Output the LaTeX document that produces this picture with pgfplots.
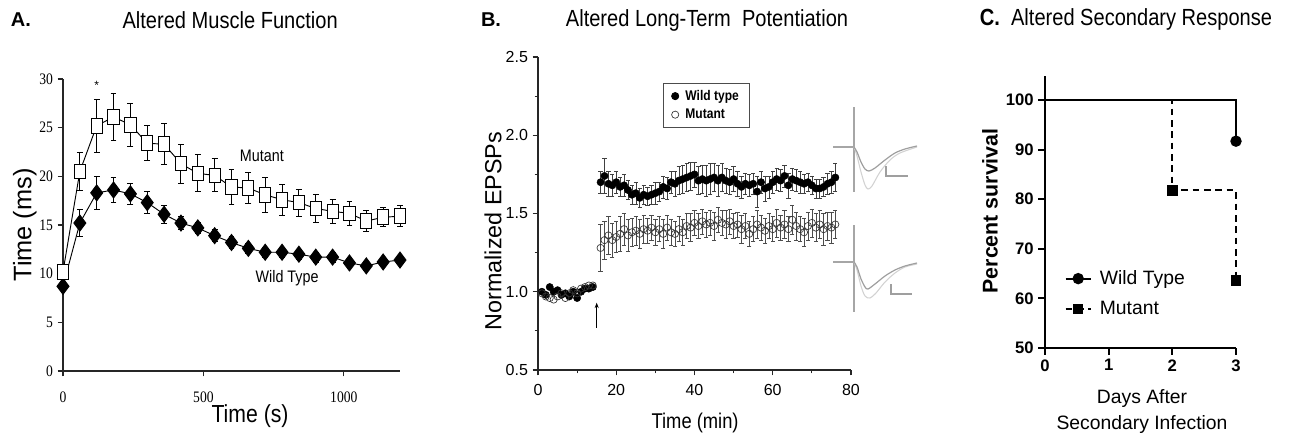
\documentclass[border=0pt]{standalone}
\usepackage{fontspec}
\setmainfont{Liberation Sans}
\newfontfamily\narrow[FakeStretch=0.86]{Liberation Sans}
\newfontfamily\serifn[FakeStretch=0.85]{Liberation Serif}
\usepackage{pgfplots}
\usepackage{pgfplotstable}
\pgfplotsset{compat=1.18, every axis title shift=0pt}
\usetikzlibrary{arrows.meta}

% panel A: twitch time course
\pgfplotstableread{
t m em w ew
0 10.2 0.6 8.7 0.3
60 20.5 2.0 15.2 1.4
120 25.2 2.7 18.3 1.7
180 26.1 2.4 18.6 1.3
240 25.3 2.2 18.2 1.1
300 23.4 1.8 17.3 1.1
360 23.3 2.1 16.1 0.9
420 21.3 2.0 15.2 0.7
480 20.3 1.9 14.7 0.6
540 20.1 1.7 13.9 0.6
600 18.9 1.8 13.2 0.6
660 18.8 1.6 12.6 0.5
720 18.1 1.8 12.2 0.5
780 17.6 1.6 12.2 0.5
840 17.3 1.4 12.0 0.5
900 16.7 1.4 11.7 0.5
960 16.4 1.2 11.7 0.5
1020 16.2 1.2 11.1 0.5
1080 15.4 1.1 10.8 0.5
1140 15.8 1.0 11.2 0.5
1200 15.9 1.1 11.4 0.5
}\tabA

% panel B: baseline before tetanus
\pgfplotstableread{
t wt mu
1 1.00 0.99
2 0.98 0.97
3 1.03 0.96
4 1.00 0.95
5 1.01 0.97
6 0.98 0.99
7 0.99 0.96
8 0.97 0.99
9 1.00 1.01
10 0.96 0.99
11 1.00 1.02
12 1.02 1.03
13 1.02 1.04
14 1.03 1.04
}\tabBbase

% panel B: after tetanus
\pgfplotstableread{
t wt ewt mu emu
16 1.70 0.07 1.28 0.15
17 1.74 0.11 1.33 0.12
18 1.69 0.08 1.36 0.12
19 1.68 0.07 1.33 0.11
20 1.70 0.07 1.35 0.10
21 1.67 0.06 1.37 0.11
22 1.68 0.07 1.40 0.10
23 1.65 0.06 1.36 0.10
24 1.62 0.06 1.38 0.09
25 1.63 0.07 1.39 0.09
26 1.60 0.06 1.37 0.09
27 1.62 0.06 1.40 0.09
28 1.61 0.06 1.39 0.08
29 1.62 0.06 1.41 0.08
30 1.63 0.07 1.38 0.08
31 1.64 0.06 1.40 0.08
32 1.67 0.07 1.37 0.09
33 1.66 0.07 1.41 0.08
34 1.70 0.07 1.38 0.08
35 1.69 0.08 1.37 0.08
36 1.71 0.09 1.40 0.08
37 1.72 0.09 1.38 0.08
38 1.73 0.09 1.42 0.08
39 1.74 0.09 1.41 0.09
40 1.75 0.08 1.44 0.08
41 1.71 0.09 1.42 0.08
42 1.72 0.09 1.45 0.08
43 1.71 0.10 1.43 0.08
44 1.72 0.10 1.44 0.08
45 1.73 0.09 1.42 0.09
46 1.71 0.10 1.46 0.08
47 1.73 0.09 1.44 0.08
48 1.71 0.08 1.43 0.09
49 1.70 0.08 1.45 0.08
50 1.72 0.08 1.42 0.08
51 1.69 0.08 1.43 0.08
52 1.67 0.07 1.40 0.09
53 1.69 0.07 1.42 0.08
54 1.68 0.07 1.37 0.08
55 1.69 0.07 1.40 0.08
56 1.64 0.10 1.43 0.09
57 1.70 0.07 1.41 0.08
58 1.66 0.08 1.39 0.08
59 1.67 0.07 1.42 0.08
60 1.70 0.07 1.40 0.08
61 1.72 0.07 1.44 0.09
62 1.71 0.07 1.41 0.08
63 1.74 0.07 1.43 0.09
64 1.68 0.08 1.40 0.08
65 1.72 0.07 1.46 0.09
66 1.71 0.07 1.42 0.09
67 1.70 0.07 1.40 0.08
68 1.69 0.06 1.38 0.09
69 1.70 0.06 1.42 0.09
70 1.68 0.06 1.44 0.09
71 1.66 0.06 1.41 0.09
72 1.66 0.06 1.43 0.09
73 1.67 0.06 1.40 0.10
74 1.69 0.07 1.42 0.09
75 1.70 0.07 1.41 0.10
76 1.73 0.09 1.43 0.09
}\tabBpost

\begin{document}
\begin{tikzpicture}
\useasboundingbox (0,0) rectangle (969.75pt,330pt);

%% ---------------- A ----------------
\begin{axis}[
 at={(47.25pt,51.75pt)}, anchor=south west,
 scale only axis, width=252.75pt, height=219pt,
 xmin=0, xmax=1200, ymin=0, ymax=30,
 axis lines=left, axis line style={-, line width=0.8pt, black!85},
 tick align=outside, major tick length=4pt,
 tick style={line width=0.8pt, black!85},
 xtick={0,500,1000}, ytick={0,5,...,30},
 tick label style={font=\serifn\fontsize{12}{14}\selectfont},
 xticklabel style={yshift=-8pt},
 /pgf/number format/assume math mode=true,
 /pgf/number format/1000 sep={},
 title={Altered Muscle Function},
 title style={at={(0.496,1.202)}, anchor=center, font=\narrow\fontsize{17.5}{20}\selectfont},
 xlabel={Time (s)},
 xlabel style={at={(0.555,-0.156)}, anchor=center, font=\narrow\fontsize{18.5}{20}\selectfont},
 ylabel={Time (ms)},
 ylabel style={at={(-0.113,0.5)}, anchor=center, font=\fontsize{19}{20}\selectfont},
 clip=false,
]
\addplot[black, line width=0.7pt, mark=diamond*, mark size=6pt,
 error bars/.cd, y dir=both, y explicit,
 error bar style={line width=0.7pt},
 error mark options={rotate=90, mark size=2.2pt, line width=0.7pt}]
 table[x=t, y=w, y error=ew] {\tabA};
\addplot[black, line width=0.7pt, mark=square*, mark size=4.2pt,
 mark options={fill=white, yscale=1.3, line width=0.7pt},
 error bars/.cd, y dir=both, y explicit,
 error bar style={line width=0.7pt},
 error mark options={rotate=90, mark size=2.2pt, line width=0.7pt}]
 table[x=t, y=m, y error=em] {\tabA};
\node[font=\fontsize{9}{10}\selectfont] at (axis cs:120,29.3) {*};
\node[font=\narrow\fontsize{12.5}{14}\selectfont] at (axis cs:708,22.1) {Mutant};
\node[font=\narrow\fontsize{12.5}{14}\selectfont] at (axis cs:798,9.5) {Wild Type};
\node[font=\bfseries\fontsize{15}{18}\selectfont] at (rel axis cs:-0.125,1.202) {A.};
\end{axis}

%% ---------------- B ----------------
\begin{axis}[
 at={(403.5pt,52.5pt)}, anchor=south west,
 scale only axis, width=234.75pt, height=234.75pt,
 xmin=0, xmax=80, ymin=0.5, ymax=2.5,
 axis lines=left, axis line style={-, line width=0.8pt, black!85},
 tick align=outside, major tick length=4pt, minor tick length=2.5pt,
 tick style={line width=0.8pt, black!85},
 xtick={0,20,...,80}, minor x tick num=1,
 ytick={0.5,1.0,...,2.5}, minor y tick num=1,
 yticklabel style={/pgf/number format/fixed, /pgf/number format/fixed zerofill, /pgf/number format/precision=1},
 xticklabel style={yshift=-3pt},
 tick label style={font=\fontsize{12}{14}\selectfont},
 /pgf/number format/assume math mode=true,
 title={Altered Long-Term\ \ Potentiation},
 title style={at={(0.540,1.118)}, anchor=center, font=\narrow\fontsize{17.5}{20}\selectfont},
 xlabel={Time (min)},
 xlabel style={at={(0.502,-0.169)}, anchor=center, font=\narrow\fontsize{16}{18}\selectfont},
 ylabel={Normalized EPSPs},
 ylabel style={at={(-0.144,0.444)}, anchor=center, font=\fontsize{17.5}{20}\selectfont},
 legend style={at={(0.40,0.917)}, anchor=north west, draw=black!70, line width=0.6pt,
   font=\narrow\bfseries\fontsize{10.5}{12}\selectfont, inner xsep=6pt, inner ysep=3pt, row sep=1pt},
 legend cell align=left,
 clip=false,
]
\addplot[only marks, mark=*, mark size=2.7pt, black,
 error bars/.cd, y dir=both, y explicit,
 error bar style={line width=0.4pt, black!75},
 error mark options={rotate=90, mark size=1.6pt, line width=0.4pt, black!75}]
 table[x=t, y=wt, y error=ewt] {\tabBpost};
\addlegendentry{\hspace*{3pt}Wild type}
\addplot[only marks, mark=o, mark size=2.7pt, black!80, mark options={fill=white, line width=0.5pt},
 error bars/.cd, y dir=both, y explicit,
 error bar style={line width=0.4pt, black!70},
 error mark options={rotate=90, mark size=1.6pt, line width=0.4pt, black!70}]
 table[x=t, y=mu, y error=emu] {\tabBpost};
\addlegendentry{\hspace*{3pt}Mutant}
\addplot[only marks, mark=*, mark size=2.7pt, black, forget plot] table[x=t, y=wt] {\tabBbase};
\addplot[only marks, mark=o, mark size=2.7pt, black!80, mark options={fill=white, line width=0.5pt}, forget plot]
 table[x=t, y=mu] {\tabBbase};
\draw[-{Stealth[length=4pt,width=3pt]}, line width=0.8pt] (axis cs:15,0.77) -- (axis cs:15,0.93);
\node[font=\bfseries\fontsize{15}{18}\selectfont] at (rel axis cs:-0.150,1.118) {B.};
\end{axis}

%% EPSP sample traces beside panel B (drawn in picture pixels)
\begin{axis}[
 at={(615pt,82.5pt)}, anchor=south west,
 scale only axis, width=82.5pt, height=180pt,
 xmin=820, xmax=930, ymin=90, ymax=330, y dir=reverse,
 hide axis, clip=false,
]
\addplot[gray!70, line width=0.8pt] coordinates {(854,107) (854,192)};
\addplot[gray!70, line width=0.8pt] coordinates {(833,147) (854,147)};
\addplot[gray!35, line width=0.8pt, smooth] coordinates {(854,147) (857,156) (861,172) (865,185) (868,189) (872,186) (880,172) (890,160) (900,153) (917,147)};
\addplot[gray!75, line width=0.9pt, smooth] coordinates {(854,147) (857,152) (861,162) (865,169) (869,171) (875,168) (885,160) (895,153) (905,149) (917,146)};
\addplot[gray!75, line width=0.8pt] coordinates {(886,166) (886,176) (908,176)};
\addplot[gray!70, line width=0.8pt] coordinates {(854,225) (854,312)};
\addplot[gray!70, line width=0.8pt] coordinates {(833,262) (854,262)};
\addplot[gray!35, line width=0.8pt, smooth] coordinates {(854,262) (857,270) (861,286) (865,296) (870,298) (876,293) (885,282) (895,273) (905,267) (917,264)};
\addplot[gray!75, line width=0.9pt, smooth] coordinates {(854,262) (857,267) (861,279) (865,287) (868,289) (875,284) (885,276) (895,270) (905,266) (917,263)};
\addplot[gray!75, line width=0.8pt] coordinates {(891,284) (891,294) (912,294)};
\end{axis}

%% ---------------- C ----------------
\begin{axis}[
 at={(783.75pt,69pt)}, anchor=south west,
 scale only axis, width=143.25pt, height=204pt,
 xmin=0, xmax=3, ymin=50, ymax=104.84,
 axis lines=left, axis line style={-, line width=1.5pt},
 tick align=outside, major tick length=5pt,
 tick style={line width=1.5pt, black},
 xtick={0,1,2,3}, ytick={50,60,...,100},
 tick label style={font=\bfseries\fontsize{12.5}{14}\selectfont},
 /pgf/number format/assume math mode=true,
 title={{\bfseries C.}\ \ Altered Secondary Response},
 title style={at={(0.424,1.206)}, anchor=center, font=\narrow\fontsize{17.5}{20}\selectfont},
 xlabel={Days After\\Secondary Infection},
 xlabel style={at={(0.508,-0.233)}, anchor=center, align=center, font=\fontsize{14.5}{20}\selectfont},
 ylabel={Percent survival},
 ylabel style={at={(-0.288,0.504)}, anchor=center, font=\bfseries\fontsize{16}{18}\selectfont},
 legend style={at={(0.08,0.2)}, anchor=west, draw=none, fill=none,
   font=\fontsize{14.5}{16}\selectfont, row sep=7pt},
 legend cell align=left,
 legend image code/.code={\draw[#1, mark indices={2}] plot coordinates {(0pt,0pt) (9.5pt,0pt) (19pt,0pt)};},
 clip=false,
]
\addplot[black, line width=1.5pt, mark=*, mark size=3.5pt, mark indices={3}]
 coordinates {(0,100) (3,100) (3,91.7)};
\addlegendentry{\hspace*{4pt}Wild Type}
\addplot[black, line width=1.5pt, dash pattern=on 5pt off 3.5pt, mark=square*, mark size=3.2pt,
 mark options={solid}, mark indices={3,5}]
 coordinates {(0,100) (2,100) (2,81.8) (3,81.8) (3,63.6)};
\addlegendentry{\hspace*{4pt}Mutant}
\end{axis}
\end{tikzpicture}
\end{document}
